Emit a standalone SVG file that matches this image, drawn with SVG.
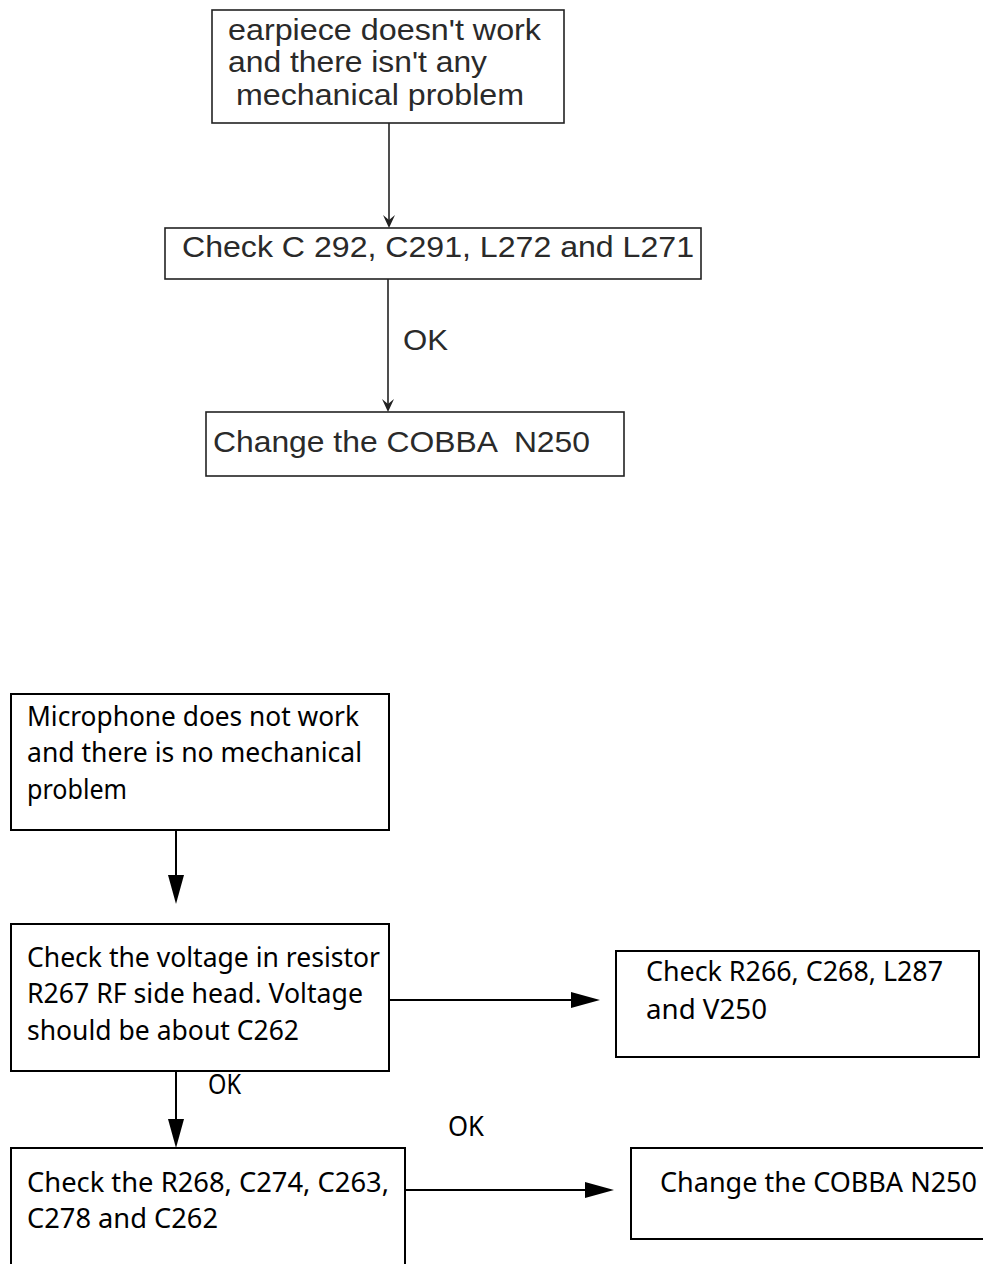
<svg xmlns="http://www.w3.org/2000/svg" width="983" height="1264" viewBox="0 0 983 1264">
<style>
.bx1{fill:#fff;stroke:#222;stroke-width:1.6}
.bx2{fill:#fff;stroke:#000;stroke-width:2}
.t1{font-family:"Liberation Sans",Arial,sans-serif;font-size:29px;fill:#2a2a2a}
.t2{font-family:"Noto Sans","Open Sans",sans-serif;font-size:27px;fill:#000}
.ln1{stroke:#222;stroke-width:1.6;fill:none}
.ln2{stroke:#000;stroke-width:2;fill:none}
</style>
<rect width="983" height="1264" fill="#fff"/>
<g id="n1">
<rect class="bx1" x="212" y="10" width="352" height="113"/>
<text class="t1" x="228" y="40" textLength="313" lengthAdjust="spacingAndGlyphs">earpiece doesn't work</text>
<text class="t1" x="228" y="72" textLength="259" lengthAdjust="spacingAndGlyphs">and there isn't any</text>
<text class="t1" x="236" y="105" textLength="288" lengthAdjust="spacingAndGlyphs">mechanical problem</text>
</g>
<g id="n2">
<rect class="bx1" x="165" y="228" width="536" height="51"/>
<text class="t1" x="182" y="257" textLength="512" lengthAdjust="spacingAndGlyphs">Check C 292, C291, L272 and L271</text>
</g>
<g id="n3">
<rect class="bx1" x="206" y="412" width="418" height="64"/>
<text class="t1" x="213" y="452" textLength="377" lengthAdjust="spacingAndGlyphs" xml:space="preserve">Change the COBBA  N250</text>
</g>
<g id="m1">
<rect class="bx2" x="11" y="694" width="378" height="136"/>
<text class="t2" x="27" y="726" textLength="332" lengthAdjust="spacingAndGlyphs">Microphone does not work</text>
<text class="t2" x="27" y="762" textLength="335" lengthAdjust="spacingAndGlyphs">and there is no mechanical</text>
<text class="t2" x="27" y="799" textLength="100" lengthAdjust="spacingAndGlyphs">problem</text>
</g>
<g id="m2">
<rect class="bx2" x="11" y="924" width="378" height="147"/>
<text class="t2" x="27" y="967" textLength="353" lengthAdjust="spacingAndGlyphs">Check the voltage in resistor</text>
<text class="t2" x="27" y="1003" textLength="336" lengthAdjust="spacingAndGlyphs">R267 RF side head. Voltage</text>
<text class="t2" x="27" y="1040" textLength="272" lengthAdjust="spacingAndGlyphs">should be about C262</text>
</g>
<g id="m3">
<rect class="bx2" x="616" y="951" width="363" height="106"/>
<text class="t2" x="646" y="981" textLength="297" lengthAdjust="spacingAndGlyphs">Check R266, C268, L287</text>
<text class="t2" x="646" y="1019" textLength="121" lengthAdjust="spacingAndGlyphs">and V250</text>
</g>
<g id="m4">
<rect class="bx2" x="11" y="1148" width="394" height="130"/>
<text class="t2" x="27" y="1192" textLength="362" lengthAdjust="spacingAndGlyphs">Check the R268, C274, C263,</text>
<text class="t2" x="27" y="1228" textLength="191" lengthAdjust="spacingAndGlyphs">C278 and C262</text>
</g>
<g id="m5">
<rect class="bx2" x="631" y="1148" width="360" height="91"/>
<text class="t2" x="660" y="1192" textLength="317" lengthAdjust="spacingAndGlyphs">Change the COBBA N250</text>
</g>
<g id="connectors">
<line class="ln1" x1="389" y1="123" x2="389" y2="226"/>
<polygon points="389,228 383,215 389,220 395,215" fill="#222"/>
<line class="ln1" x1="388" y1="279" x2="388" y2="410"/>
<polygon points="388,412 382,399 388,404 394,399" fill="#222"/>
<text class="t1" x="403" y="350" textLength="45" lengthAdjust="spacingAndGlyphs">OK</text>
<line class="ln2" x1="176" y1="830" x2="176" y2="880"/>
<polygon points="168,875 184,875 176,904"/>
<line class="ln2" x1="389" y1="1000" x2="575" y2="1000"/>
<polygon points="571,992 571,1008 600,1000"/>
<line class="ln2" x1="176" y1="1071" x2="176" y2="1124"/>
<polygon points="168,1119 184,1119 176,1148"/>
<text class="t2" x="208" y="1094" textLength="33" lengthAdjust="spacingAndGlyphs">OK</text>
<line class="ln2" x1="405" y1="1190" x2="590" y2="1190"/>
<polygon points="585,1182 585,1198 614,1190"/>
<text class="t2" x="448" y="1136" textLength="36" lengthAdjust="spacingAndGlyphs">OK</text>
</g>
</svg>
